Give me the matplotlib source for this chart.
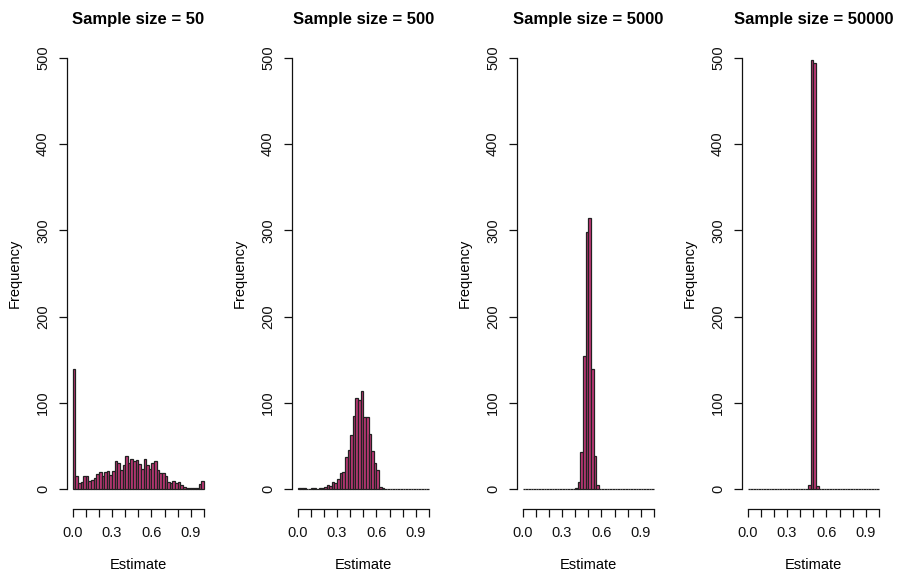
import numpy as np
import matplotlib
matplotlib.use("Agg")
import matplotlib.pyplot as plt

plt.rcParams['font.family'] = ['Liberation Sans', 'DejaVu Sans']

bin_edges = np.round(np.arange(0, 51) * 0.02, 2)

titles = ["Sample size = 50", "Sample size = 500", "Sample size = 5000", "Sample size = 50000"]

counts_50 = [139, 15, 7, 8, 16, 15, 10, 11, 13, 18,
             20, 15, 20, 21, 17, 21, 33, 31, 22, 28,
             39, 31, 35, 33, 34, 29, 24, 35, 28, 24,
             31, 33, 22, 19, 19, 15, 9, 7, 10, 7,
             9, 5, 3, 2, 2, 2, 2, 2, 6, 10]

counts_500 = [2, 1, 1, 0, 0, 1, 1, 0, 1, 2,
              3, 5, 4, 8, 7, 12, 19, 20, 37, 45,
              63, 85, 106, 103, 114, 84, 84, 64, 44, 30,
              22, 3, 1, 0, 0, 0, 0, 0, 0, 0,
              0, 0, 0, 0, 0, 0, 0, 0, 0, 0]

counts_5000 = [0, 0, 0, 0, 0, 0, 0, 0, 0, 0,
               0, 0, 0, 0, 0, 0, 0, 0, 0, 0,
               1, 8, 43, 154, 298, 314, 139, 39, 5, 0,
               0, 0, 0, 0, 0, 0, 0, 0, 0, 0,
               0, 0, 0, 0, 0, 0, 0, 0, 0, 0]

counts_50000 = [0, 0, 0, 0, 0, 0, 0, 0, 0, 0,
                0, 0, 0, 0, 0, 0, 0, 0, 0, 0,
                0, 0, 0, 5, 497, 494, 4, 0, 0, 0,
                0, 0, 0, 0, 0, 0, 0, 0, 0, 0,
                0, 0, 0, 0, 0, 0, 0, 0, 0, 0]

all_counts = [counts_50, counts_500, counts_5000, counts_50000]

x_ticks = [0.0, 0.1, 0.2, 0.3, 0.4, 0.5, 0.6, 0.7, 0.8, 0.9, 1.0]
x_tick_labels = ["0.0", "", "", "0.3", "", "", "0.6", "", "", "0.9", ""]
y_ticks = [0, 100, 200, 300, 400, 500]

W, H = 902, 578
fig = plt.figure(figsize=(W / 100, H / 100), dpi=100)

fill = "#C23878"
edge = "#222222"

for k, (title, counts) in enumerate(zip(titles, all_counts)):
    left_px = 67.4 + 225 * k
    ax = fig.add_axes([left_px / W, (H - 506.6) / H, 141.8 / W, 466.2 / H])
    lefts = bin_edges[:-1]
    widths = np.diff(bin_edges)
    ax.bar(lefts, counts, width=widths, align='edge', color=fill,
           edgecolor=edge, linewidth=0.9)
    ax.set_xlim(-0.04, 1.04)
    ax.set_ylim(-20, 520)
    for s in ['top', 'right']:
        ax.spines[s].set_visible(False)
    ax.spines['left'].set_bounds(0, 500)
    ax.spines['bottom'].set_bounds(0, 1)
    ax.spines['bottom'].set_position(('outward', 1.5))
    for s in ['left', 'bottom']:
        ax.spines[s].set_linewidth(0.9)
        ax.spines[s].set_color('#111111')
    ax.set_xticks(x_ticks)
    ax.set_xticklabels(x_tick_labels)
    ax.set_yticks(y_ticks)
    ax.set_yticklabels([str(v) for v in y_ticks], rotation=90, va='center')
    ax.tick_params(axis='both', direction='out', length=5.5, width=0.9,
                   labelsize=10.5, color='#111111', labelcolor='#111111')
    ax.tick_params(axis='x', pad=7)
    ax.tick_params(axis='y', pad=7)
    ax.set_title(title, fontsize=12, fontweight='bold', pad=12)
    ax.set_xlabel("Estimate", fontsize=10.5, labelpad=13)
    ax.set_ylabel("Frequency", fontsize=10.5, labelpad=10)
    ax.patch.set_visible(False)

fig.savefig("out.png", dpi=100, facecolor='white')
